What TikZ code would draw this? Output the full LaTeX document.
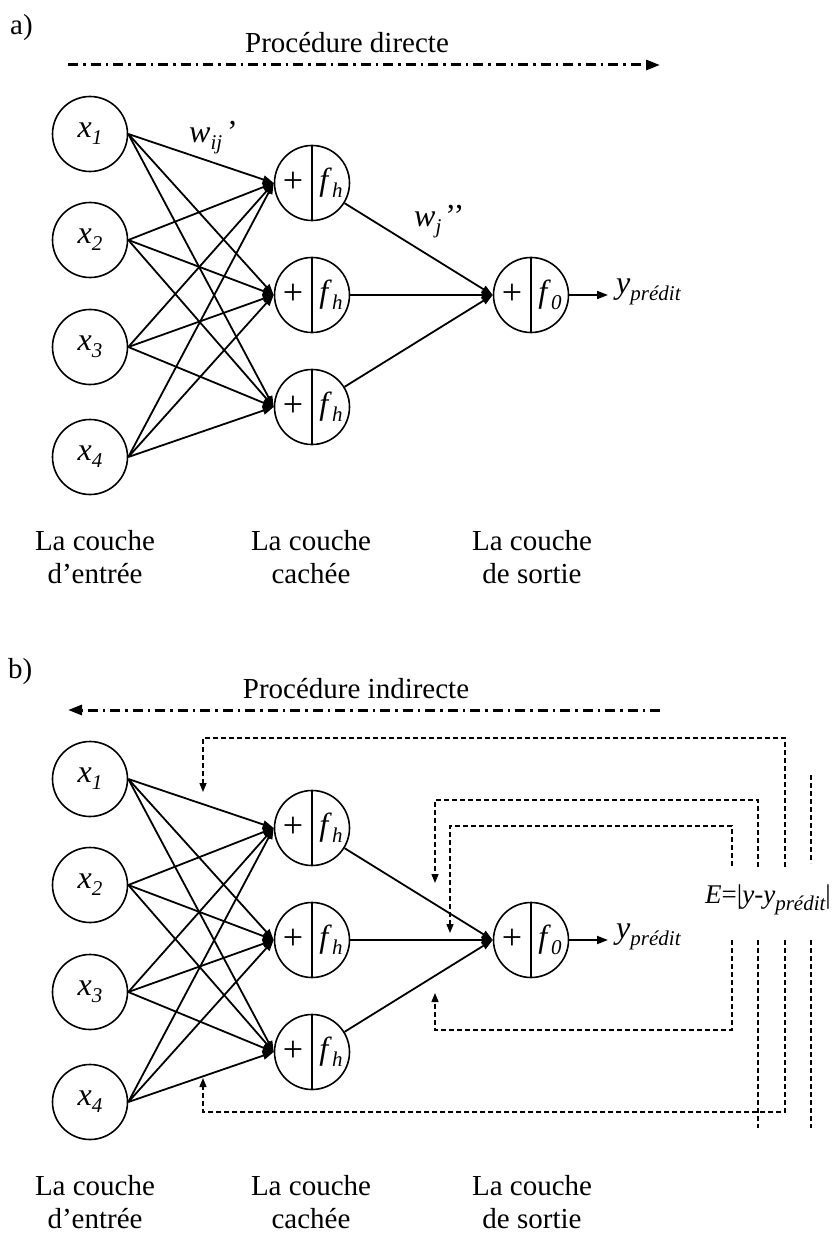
\documentclass[tikz,border=0pt]{standalone}
\usepackage{fontspec}
\setmainfont{Liberation Serif}
\usetikzlibrary{arrows.meta,calc}
\newcommand{\lsub}[1]{\raisebox{-7pt}{\fontsize{21}{24}\selectfont\itshape #1}}
\begin{document}
\begin{tikzpicture}[x=1pt,y=-1pt]
\tikzset{
 txt/.style={font=\fontsize{29}{34}\selectfont, inner sep=0pt},
 ntxt/.style={font=\fontsize{32}{36}\selectfont, inner sep=0pt},
 ptxt/.style={font=\fontsize{36}{40}\selectfont, inner sep=0pt},
 etxt/.style={font=\fontsize{27}{32}\selectfont, inner sep=0pt},
 neuron/.style={circle, draw, line width=1.6pt, minimum size=75pt, inner sep=0pt},
 edge/.style={line width=1.8pt, -{Triangle[length=11pt,width=8pt]}},
 plain/.style={line width=1.6pt},
 fb/.style={line width=1.4pt, dash pattern=on 5pt off 3pt},
 fbarrow/.style={fb, -{Triangle[length=9pt,width=7pt]}},
 proc/.style={line width=3pt, dash pattern=on 10pt off 5pt on 2.5pt off 5pt, -{Triangle[length=14pt,width=10pt]}},
}
\useasboundingbox (0,0) rectangle (837,1238);
% panel titles
\node[txt, anchor=base west] (la) at (10,35) {a)};
\node[txt, anchor=base west] (lb) at (8,678) {b)};
\node[txt, anchor=base] (pa) at (347,53) {Procédure directe};
\node[txt, anchor=base] (pb) at (356,698) {Procédure indirecte};
\coordinate (pa1) at (68,65); \coordinate (pa2) at (660,65);
\draw[proc] (pa1) -- (pa2);
\coordinate (pb1) at (660,710); \coordinate (pb2) at (68,710);
\draw[proc] (pb1) -- (pb2);
\foreach \p/\dy in {a/0,b/645}{
  \foreach \i/\yy in {1/134,2/240,3/347,4/457}{
    \node[neuron] (\p x\i) at (90,\yy+\dy) {};
    \node[ntxt] (\p xl\i) at (\p x\i) {\textit{x}\lsub{\i}};
  }
  \foreach \j/\yy in {1/183,2/295,3/407}{
    \node[neuron] (\p h\j) at (312,\yy+\dy) {};
    \draw[plain] (\p h\j.north) -- (\p h\j.south);
    \node[ptxt] (\p hp\j) at ($(\p h\j)+(-19,-1)$) {+};
    \node[ntxt] (\p hf\j) at ($(\p h\j)+(19,0)$) {\textit{f}\lsub{h}};
  }
  \node[neuron] (\p o) at (531,295+\dy) {};
  \draw[plain] (\p o.north) -- (\p o.south);
  \node[ptxt] (\p op) at ($(\p o)+(-19,-1)$) {+};
  \node[ntxt] (\p of) at ($(\p o)+(19,0)$) {\textit{f}\lsub{0}};
  \foreach \i in {1,...,4}{
    \foreach \j in {1,2,3}{
      \draw[edge] (\p x\i.east) -- (\p h\j.west);
    }
  }
  \foreach \j in {1,2,3}{
    \draw[edge] (\p h\j) -- (\p o.west);
  }
  \coordinate (\p yend) at (608,295+\dy);
  \draw[edge] (\p o.east) -- (\p yend);
  \node[ntxt, anchor=west] (\p y) at (616,292+\dy) {\textit{y}\lsub{prédit}};
  \node[txt, anchor=base] (\p l1a) at (95,550+\dy) {La couche};
  \node[txt, anchor=base] (\p l1b) at (95,583+\dy) {d’entrée};
  \node[txt, anchor=base] (\p l2a) at (311,550+\dy) {La couche};
  \node[txt, anchor=base] (\p l2b) at (311,583+\dy) {cachée};
  \node[txt, anchor=base] (\p l3a) at (532,550+\dy) {La couche};
  \node[txt, anchor=base] (\p l3b) at (532,583+\dy) {de sortie};
}
% weight labels
\node[ntxt, anchor=base west] (wij) at (189,143) {\textit{w}\lsub{ij}\hspace{5pt}’};
\node[ntxt, anchor=base west] (wj) at (414,227) {\textit{w}\lsub{j}\hspace{4pt}’’};
% error label
\node[etxt, anchor=base west] (E) at (705,903) {\textit{E}=|\textit{y}-\textit{y}\lsub{prédit}|};
% feedback loops
\coordinate (f1s) at (785,867); \coordinate (f1t) at (203,792);
\draw[fbarrow] (f1s) -- ++(0,-129) -| (f1t);
\coordinate (f2s) at (758,867); \coordinate (f2t) at (435,883);
\draw[fbarrow] (f2s) -- ++(0,-67) -| (f2t);
\coordinate (f3s) at (732,866); \coordinate (f3t) at (450,933);
\draw[fbarrow] (f3s) -- ++(0,-40) -| (f3t);
\coordinate (f4s) at (732,940); \coordinate (f4t) at (435,993);
\draw[fbarrow] (f4s) -- ++(0,90) -| (f4t);
\coordinate (f5s) at (785,940); \coordinate (f5t) at (203,1078);
\draw[fbarrow] (f5s) -- ++(0,172) -| (f5t);
\coordinate (v1a) at (811,775); \coordinate (v1b) at (811,863);
\draw[fb] (v1a) -- (v1b);
\coordinate (v2a) at (811,940); \coordinate (v2b) at (811,1128);
\draw[fb] (v2a) -- (v2b);
\coordinate (v3a) at (758,940); \coordinate (v3b) at (758,1128);
\draw[fb] (v3a) -- (v3b);
\end{tikzpicture}
\end{document}
